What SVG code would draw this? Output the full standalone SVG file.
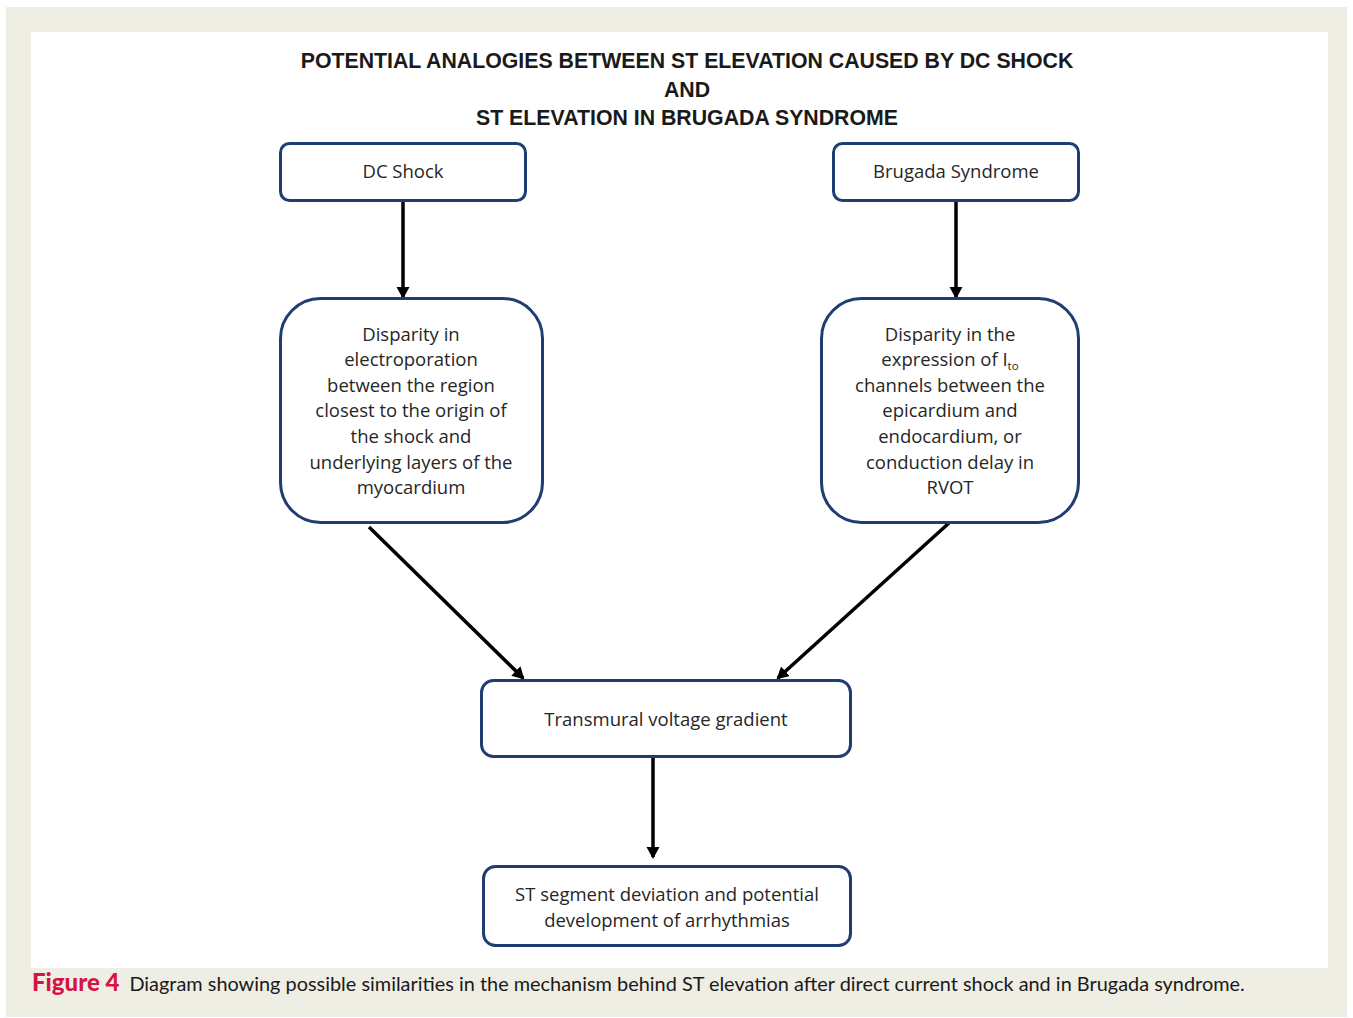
<svg xmlns="http://www.w3.org/2000/svg" width="1353" height="1018" viewBox="0 0 1353 1018">
<style>
.box{fill:#fff;stroke:#203d72;stroke-width:3}
.t{font-family:"Open Sans","Noto Sans",sans-serif;font-size:18.5px;fill:#262626;text-anchor:middle}
.title{font-family:"Liberation Sans",Arial,sans-serif;font-weight:bold;font-size:21.3px;fill:#1a1a1a;text-anchor:middle}
.c{stroke:#000;stroke-width:3.5;fill:none;marker-end:url(#ah)}
</style>
<defs>
<marker id="ah" markerWidth="14" markerHeight="14" refX="10" refY="6.5" orient="auto" markerUnits="userSpaceOnUse">
<path d="M0,0 L12,6.5 L0,13 z" fill="#000"/>
</marker>
</defs>
<rect x="0" y="0" width="1353" height="1018" fill="#fff"/>
<rect x="6" y="7" width="1341" height="1010" fill="#efeee4"/>
<rect x="31" y="32" width="1297" height="936" fill="#fff"/>
<g id="title">
<text class="title" x="687" y="68">POTENTIAL ANALOGIES BETWEEN ST ELEVATION CAUSED BY DC SHOCK</text>
<text class="title" x="687" y="97">AND</text>
<text class="title" x="687" y="125">ST ELEVATION IN BRUGADA SYNDROME</text>
</g>
<g id="connectors">
<line class="c" x1="403" y1="201" x2="403" y2="297"/>
<line class="c" x1="956" y1="201" x2="956" y2="297"/>
<line class="c" x1="369" y1="527" x2="523" y2="678"/>
<line class="c" x1="949" y1="523" x2="778" y2="678"/>
<line class="c" x1="653" y1="758" x2="653" y2="857"/>
</g>
<g id="dc-shock">
<rect class="box" x="280.5" y="143.5" width="245" height="57" rx="9"/>
<text class="t" x="403" y="178">DC Shock</text>
</g>
<g id="brugada">
<rect class="box" x="833.5" y="143.5" width="245" height="57" rx="9"/>
<text class="t" x="956" y="178">Brugada Syndrome</text>
</g>
<g id="disparity-left">
<rect class="box" x="280.5" y="298.5" width="262" height="224" rx="40"/>
<text class="t" x="411" y="340.5">Disparity in</text>
<text class="t" x="411" y="366.1">electroporation</text>
<text class="t" x="411" y="391.7">between the region</text>
<text class="t" x="411" y="417.3">closest to the origin of</text>
<text class="t" x="411" y="442.9">the shock and</text>
<text class="t" x="411" y="468.5">underlying layers of the</text>
<text class="t" x="411" y="494.1">myocardium</text>
</g>
<g id="disparity-right">
<rect class="box" x="821.5" y="298.5" width="257" height="224" rx="40"/>
<text class="t" x="950" y="340.5">Disparity in the</text>
<text class="t" x="950" y="366.1">expression of I<tspan font-size="11.5" dy="4">to</tspan></text>
<text class="t" x="950" y="391.7">channels between the</text>
<text class="t" x="950" y="417.3">epicardium and</text>
<text class="t" x="950" y="442.9">endocardium, or</text>
<text class="t" x="950" y="468.5">conduction delay in</text>
<text class="t" x="950" y="494.1">RVOT</text>
</g>
<g id="transmural">
<rect class="box" x="481.5" y="680.5" width="369" height="76" rx="12"/>
<text class="t" x="666" y="725.5">Transmural voltage gradient</text>
</g>
<g id="st-segment">
<rect class="box" x="483.5" y="866.5" width="367" height="79" rx="12"/>
<text class="t" x="667" y="900.5">ST segment deviation and potential</text>
<text class="t" x="667" y="926.5">development of arrhythmias</text>
</g>
<g id="caption">
<text x="32" y="991" font-family="Lato,'Open Sans',sans-serif" font-size="19.9" fill="#1a1a1a"><tspan font-weight="900" font-size="24" fill="#d41444">Figure 4</tspan><tspan dx="10">Diagram showing possible similarities in the mechanism behind ST elevation after direct current shock and in Brugada syndrome.</tspan></text>
</g>
</svg>
